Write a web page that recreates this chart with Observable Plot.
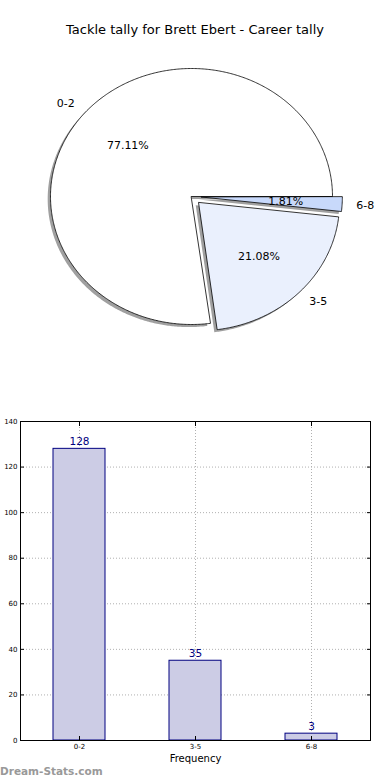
<!DOCTYPE html>
<html><head><meta charset="utf-8">
<script src="https://cdn.jsdelivr.net/npm/d3@7"></script>
<script src="https://cdn.jsdelivr.net/npm/@observablehq/plot@0.6"></script>
<style>
body{margin:0;background:#fff;font-family:"DejaVu Sans",sans-serif;}
#wrap{position:relative;width:390px;height:780px;overflow:hidden;}
#title{position:absolute;top:22px;left:0;width:390px;text-align:center;font-size:13px;line-height:16px;color:#000;}
#pie{position:absolute;top:0;left:0;}
#bar{position:absolute;top:410px;left:0;}
#wm{position:absolute;top:764px;left:0;font-size:10.5px;font-weight:bold;color:#999;font-family:"DejaVu Sans",sans-serif;line-height:14px;}
</style></head>
<body><div id="wrap">
<div id="pie"></div>
<div id="title">Tackle tally for Brett Ebert - Career tally</div>
<div id="bar"></div>
<div id="wm">Dream-Stats.com</div>
</div>
<script>
const categories = ["0-2", "3-5", "6-8"];
const counts = [128, 35, 3];
const sliceColors = ["#ffffff", "#eaf0fd", "#c8d9fb"];
const explode = [0, 0.07, 0.07];
const yTicks = [0, 20, 40, 60, 80, 100, 120, 140];
const xLabel = "Frequency";

// ---- pie geometry derived from data ----
const total = d3.sum(counts);
let start = 0;
const slices = categories.map((c, i) => {
  const frac = counts[i] / total;
  const a0 = start * 2 * Math.PI, a1 = (start + frac) * 2 * Math.PI;
  start += frac;
  const mid = (a0 + a1) / 2;
  const cx = explode[i] * Math.cos(mid), cy = explode[i] * Math.sin(mid);
  return {c, i, frac, a0, a1, mid, cx, cy};
});
function poly(s, dx, dy, key) {
  const pts = [{k: key, x: s.cx + dx, y: s.cy + dy}];
  const n = Math.max(4, Math.ceil((s.a1 - s.a0) / 0.01));
  for (let j = 0; j <= n; j++) {
    const a = s.a0 + (s.a1 - s.a0) * j / n;
    pts.push({k: key, x: s.cx + dx + Math.cos(a), y: s.cy + dy + Math.sin(a)});
  }
  return pts;
}
const shadowPts = slices.flatMap(s => poly(s, -0.02, -0.02, "s" + s.i));
const slicePts = slices.flatMap(s => poly(s, 0, 0, s.c));
const labels = slices.map(s => ({
  t: s.c, x: s.cx + 1.1 * Math.cos(s.mid), y: s.cy + 1.1 * Math.sin(s.mid),
  px: s.cx + 0.6 * Math.cos(s.mid), py: s.cy + 0.6 * Math.sin(s.mid),
  pct: (s.frac * 100).toFixed(2) + "%"
}));

const pie = Plot.plot({
  width: 390, height: 400, margin: 0,
  x: {domain: [-191 / 141, 199 / 141], range: [0, 390], axis: null},
  y: {domain: [-204 / 128, 196 / 128], range: [400, 0], axis: null},
  color: {domain: categories, range: sliceColors},
  style: {fontFamily: "DejaVu Sans, sans-serif"},
  marks: [
    Plot.line(shadowPts, {x: "x", y: "y", z: "k", curve: "linear-closed", fill: "#a0a0a0", stroke: "none"}),
    Plot.line(slicePts, {x: "x", y: "y", z: "k", curve: "linear-closed", fill: d => d.k, stroke: "#000", strokeWidth: 0.8}),
    Plot.text(labels.filter(d => d.x < 0), {x: "x", y: "y", text: "t", textAnchor: "end", fontSize: 11, fill: "#000"}),
    Plot.text(labels.filter(d => d.x >= 0), {x: "x", y: "y", text: "t", textAnchor: "start", fontSize: 11, fill: "#000"}),
    Plot.text(labels, {x: "px", y: "py", text: "pct", fontSize: 11, fill: "#000"})
  ]
});
document.getElementById("pie").appendChild(pie);

// ---- bar chart ----
const barData = categories.map((c, i) => ({cat: c, count: counts[i]}));
const bar = Plot.plot({
  width: 390, height: 370,
  marginTop: 11, marginBottom: 40, marginLeft: 20, marginRight: 20,
  x: {domain: categories, padding: 0, label: null},
  y: {domain: [0, 140], label: null},
  style: {fontFamily: "DejaVu Sans, sans-serif"},
  marks: [
    Plot.gridY(yTicks.slice(1, -1), {stroke: "#b0b0b0", strokeOpacity: 1, strokeDasharray: "1,2"}),
    Plot.gridX(categories, {stroke: "#b0b0b0", strokeOpacity: 1, strokeDasharray: "1,2"}),
    Plot.barY(barData, {x: "cat", y: "count", fill: "#ccccE5", stroke: "#000080", strokeWidth: 1, insetLeft: 32, insetRight: 32}),
    Plot.text(barData, {x: "cat", y: "count", text: d => String(d.count), dy: -7, fill: "#000080", fontSize: 10.5}),
    Plot.axisY(yTicks, {tickSize: 0, tickPadding: 3, fontSize: 7, color: "#000"}),
    Plot.axisY(yTicks, {tickSize: -4, tickFormat: () => "", color: "#000"}),
    Plot.axisY(yTicks, {anchor: "right", tickSize: -4, tickFormat: () => "", color: "#000"}),
    Plot.axisX(categories, {tickSize: 0, tickPadding: 4, fontSize: 7, color: "#000", label: null}),
    Plot.axisX(categories, {tickSize: -4, tickFormat: () => "", label: null, color: "#000"}),
    Plot.axisX(categories, {anchor: "top", tickSize: -4, tickFormat: () => "", label: null, color: "#000"}),
    Plot.text([xLabel], {text: d => d, frameAnchor: "bottom", dy: 21, fontSize: 10, fill: "#000"}),
    Plot.frame({stroke: "#000"})
  ]
});
document.getElementById("bar").appendChild(bar);
</script>
</body></html>
